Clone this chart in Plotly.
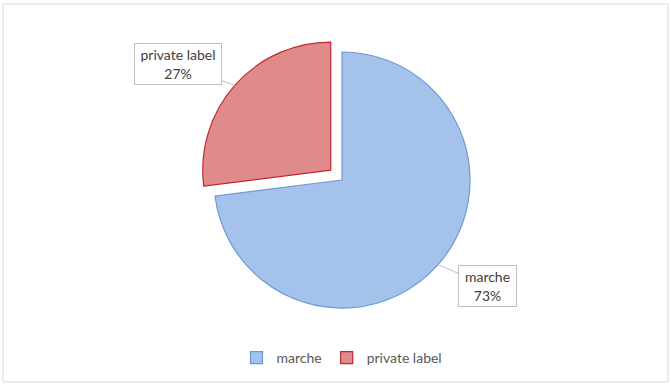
import math
import plotly.graph_objects as go

labels = ["marche", "private label"]
values = [73, 27]
fill_colors = ["#A5C3EA", "#E08B8B"]
line_colors = ["#6A9BD8", "#C0282D"]
pulls = [0, 0.117]

W, H = 671, 385
ML, MR, MT, MB = 13, 0, 37, 62
PW, PH = W - ML - MR, H - MT - MB

fig = go.Figure(go.Pie(
    labels=labels, values=values, sort=False, direction="clockwise", rotation=0,
    pull=pulls, textinfo="none", hoverinfo="label+percent",
    marker=dict(colors=fill_colors, line=dict(color=line_colors, width=1.2)),
))

# geometry (mirrors plotly's pie layout) for callout placement
maxpull = max(pulls)
r = min(PW, PH) / (2 + 2 * maxpull)
cx, cy = ML + PW / 2, MT + PH / 2
total = sum(values)
offsets = {"private label": (-57, -21), "marche": (49, 21)}
sizes = {"private label": 86, "marche": 57}
annotations = []
cum = 0
for lab, v, p in zip(labels, values, pulls):
    mid = (cum + v / 2) / total * 2 * math.pi
    cum += v
    ux, uy = math.sin(mid), -math.cos(mid)
    pcx, pcy = cx + p * r * ux, cy + p * r * uy
    tx, ty = pcx + r * ux, pcy + r * uy
    px = (tx - ML) / PW
    py = (MT + PH - ty) / PH
    pct = round(v / total * 100)
    ax, ay = offsets[lab]
    annotations.append(dict(
        x=px, y=py, xref="paper", yref="paper",
        text=f"{lab}<br>{pct}%", showarrow=True, arrowhead=0, arrowwidth=1,
        arrowcolor="#BFBFBF", ax=ax, ay=ay, bgcolor="white",
        bordercolor="#BFBFBF", borderwidth=1, borderpad=0,
        width=sizes[lab], height=40, align="center",
        font=dict(family="Lato", size=14, color="#404040"),
    ))

fig.update_layout(
    width=W, height=H, margin=dict(l=ML, r=MR, t=MT, b=MB),
    paper_bgcolor="white", plot_bgcolor="white",
    annotations=annotations,
    showlegend=True,
    legend=dict(orientation="h", x=0.5, xanchor="center", y=(MT + PH - 358) / PH,
                yanchor="middle", font=dict(family="Lato", size=14, color="#595959"),
                itemwidth=30, tracegroupgap=0),
    shapes=[dict(type="rect", xref="paper", yref="paper",
                 x0=(3 - ML) / PW, x1=(668 - ML) / PW,
                 y0=(MT + PH - 382) / PH, y1=(MT + PH - 4) / PH,
                 line=dict(color="#D9D9D9", width=1), layer="below")],
)

fig.write_html("out.html")
